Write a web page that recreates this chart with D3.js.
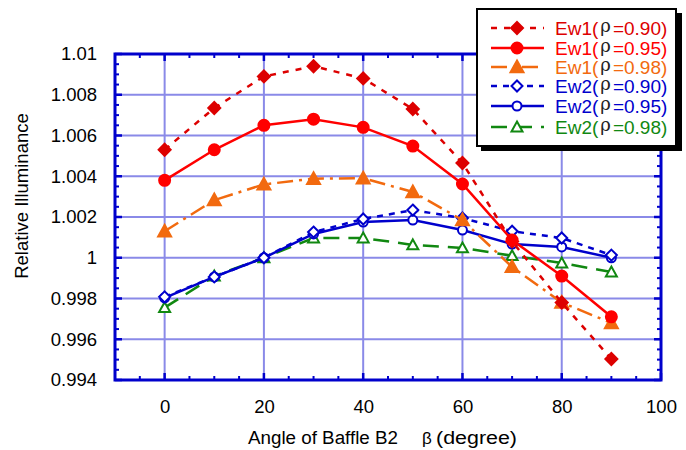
<!DOCTYPE html>
<html><head><meta charset="utf-8">
<script src="https://cdn.jsdelivr.net/npm/d3@7"></script>
<style>body{margin:0;background:#fff}svg{display:block}text{font-family:Arial,"Liberation Sans",sans-serif}</style>
</head><body><svg id="c" width="686" height="450"></svg>
<script>
const angles = [0,10,20,30,40,50,60,70,80,90];
const ew1_090 = [1.0053,1.00735,1.0089,1.0094,1.0088,1.0073,1.00465,1.0008,0.9978,0.99503];
const ew1_095 = [1.0038,1.0053,1.0065,1.0068,1.0064,1.00548,1.00362,1.00087,0.9991,0.9971];
const ew1_098 = [1.0013,1.00283,1.0036,1.00388,1.0039,1.00323,1.00185,0.99955,0.9978,0.9968];
const ew2_090 = [0.99808,0.99906,1.0,1.00126,1.0019,1.00234,1.00195,1.0013,1.00097,1.00013];
const ew2_095 = [0.99803,0.99906,1.0,1.00117,1.00175,1.00185,1.00136,1.00067,1.00053,1.0];
const ew2_098 = [0.99755,0.9991,1.0,1.00097,1.00097,1.00063,1.00048,1.0001,0.99974,0.9993];
const xTicks = [0,20,40,60,80,100];
const yTicks = [0.994,0.996,0.998,1.0,1.002,1.004,1.006,1.008,1.01];
const yTickLabels = ["0.994","0.996","0.998","1","1.002","1.004","1.006","1.008","1.01"];

const series = [
  {name:"Ew1", rho:"0.90", vals:ew1_090, color:"#dd0000", dash:"6,7", marker:"diamond", fill:true},
  {name:"Ew1", rho:"0.95", vals:ew1_095, color:"#ff0000", dash:null, marker:"circle", fill:true},
  {name:"Ew1", rho:"0.98", vals:ew1_098, color:"#f26a0f", dash:"16,6,3,6", marker:"triangle", fill:true},
  {name:"Ew2", rho:"0.90", vals:ew2_090, color:"#0000cc", dash:"6,6", marker:"diamond", fill:false},
  {name:"Ew2", rho:"0.95", vals:ew2_095, color:"#0000cc", dash:null, marker:"circle", fill:false},
  {name:"Ew2", rho:"0.98", vals:ew2_098, color:"#118811", dash:"16,9", marker:"triangle", fill:false}
];

const svg = d3.select("#c");
const L=115, R=661, T=54, B=380;
const x = d3.scaleLinear().domain([-10,100]).range([L,R]);
const y = d3.scaleLinear().domain([0.994,1.01]).range([B,T]);
const axisCol = "#0000cc", gridCol = "#8a8ae8";
const FS = 18.5;

// grid
const g = svg.append("g");
g.selectAll(".vg").data(xTicks.filter(d=>d<100)).enter().append("line")
  .attr("x1",d=>x(d)).attr("x2",d=>x(d)).attr("y1",T).attr("y2",B)
  .attr("stroke",gridCol).attr("stroke-width",2);
g.selectAll(".hg").data(yTicks.filter(d=>d>0.994 && d<1.01)).enter().append("line")
  .attr("y1",d=>y(d)).attr("y2",d=>y(d)).attr("x1",L).attr("x2",R)
  .attr("stroke",gridCol).attr("stroke-width",2);

// axes (all four sides, inward ticks)
const xMinor = d3.range(-5,100,5).filter(v=>!xTicks.includes(v));
const yMinor = d3.range(0,33).map(i=>0.994+i*0.0005).filter(v=>Math.abs(((v-0.994)/0.002)-Math.round((v-0.994)/0.002))>0.01);
function xAxis(pos, dir){
  svg.append("g").selectAll("line").data(xTicks).enter().append("line")
    .attr("x1",d=>x(d)).attr("x2",d=>x(d)).attr("y1",pos).attr("y2",pos+dir*7)
    .attr("stroke",axisCol).attr("stroke-width",2.5);
  svg.append("g").selectAll("line").data(xMinor).enter().append("line")
    .attr("x1",d=>x(d)).attr("x2",d=>x(d)).attr("y1",pos).attr("y2",pos+dir*4)
    .attr("stroke",axisCol).attr("stroke-width",2);
}
function yAxis(pos, dir){
  svg.append("g").selectAll("line").data(yTicks).enter().append("line")
    .attr("y1",d=>y(d)).attr("y2",d=>y(d)).attr("x1",pos).attr("x2",pos+dir*7)
    .attr("stroke",axisCol).attr("stroke-width",2.5);
  svg.append("g").selectAll("line").data(yMinor).enter().append("line")
    .attr("y1",d=>y(d)).attr("y2",d=>y(d)).attr("x1",pos).attr("x2",pos+dir*4)
    .attr("stroke",axisCol).attr("stroke-width",2);
}
xAxis(B,-1); xAxis(T,1); yAxis(L,1); yAxis(R,-1);
svg.append("rect").attr("x",L).attr("y",T).attr("width",R-L).attr("height",B-T)
  .attr("fill","none").attr("stroke",axisCol).attr("stroke-width",3);

// tick labels via axis generators
const xa = d3.axisBottom(x).tickValues(xTicks).tickSize(0).tickPadding(20).tickFormat(d3.format("d"));
svg.append("g").attr("transform",`translate(0,${B})`).call(xa)
  .call(s=>{s.select(".domain").remove(); s.selectAll("text").attr("font-size",FS).attr("fill","#000").attr("font-family","Arial,'Liberation Sans',sans-serif");});
const ya = d3.axisLeft(y).tickValues(yTicks).tickSize(0).tickPadding(18).tickFormat((d,i)=>yTickLabels[i]);
svg.append("g").attr("transform",`translate(${L},0)`).call(ya)
  .call(s=>{s.select(".domain").remove(); s.selectAll("text").attr("font-size",FS).attr("fill","#000").attr("font-family","Arial,'Liberation Sans',sans-serif");});

// axis titles
svg.append("text").attr("x",248).attr("y",444).attr("font-size",18).attr("fill","#000")
  .attr("textLength",150).attr("lengthAdjust","spacingAndGlyphs").text("Angle of Baffle B2");
svg.append("text").attr("x",422).attr("y",444).attr("font-size",17).attr("fill","#000")
  .attr("font-family","'DejaVu Serif','Liberation Serif',serif").text("β");
svg.append("text").attr("x",436).attr("y",444).attr("font-size",18).attr("fill","#000")
  .attr("textLength",81).attr("lengthAdjust","spacingAndGlyphs").text("(degree)");
svg.append("text").attr("transform","translate(28,196) rotate(-90)").attr("text-anchor","middle")
  .attr("font-size",18.5).attr("fill","#000").text("Relative Illuminance");

// markers
function drawMarker(sel, s, cx, cy){
  const sw = 2;
  const fill = s.fill ? s.color : "#fff";
  if(s.marker==="circle"){
    sel.append("circle").attr("cx",cx).attr("cy",cy).attr("r", s.fill?5.5:4.5)
      .attr("fill",fill).attr("stroke",s.color).attr("stroke-width",sw);
  } else if(s.marker==="diamond"){
    const r = s.fill?6:5.5;
    sel.append("path").attr("d",`M${cx},${cy-r}L${cx+r},${cy}L${cx},${cy+r}L${cx-r},${cy}Z`)
      .attr("fill",fill).attr("stroke",s.color).attr("stroke-width",sw);
  } else {
    const r = s.fill?6.5:5.5;
    sel.append("path").attr("d",`M${cx},${cy-r}L${cx+r},${cy+r*0.8}L${cx-r},${cy+r*0.8}Z`)
      .attr("fill",fill).attr("stroke",s.color).attr("stroke-width",sw).attr("stroke-linejoin","miter");
  }
}

const line = d3.line().x((d,i)=>x(angles[i])).y(d=>y(d));
const order = [5,4,3,2,0,1];
order.forEach(k=>{
  const s = series[k];
  const gg = svg.append("g");
  gg.append("path").attr("d",line(s.vals)).attr("fill","none").attr("stroke",s.color)
    .attr("stroke-width",2.5).attr("stroke-dasharray",s.dash);
  s.vals.forEach((v,i)=>drawMarker(gg,s,x(angles[i]),y(v)));
});

// legend
const lg = svg.append("g");
lg.append("rect").attr("x",481).attr("y",13).attr("width",201).attr("height",138).attr("fill","#000");
lg.append("rect").attr("x",477).attr("y",9).attr("width",199).attr("height",137).attr("fill","#fff").attr("stroke","#000").attr("stroke-width",2);
const rowY = [28,48,67,86,106,127];
series.forEach((s,i)=>{
  const yy = rowY[i];
  lg.append("line").attr("x1",491).attr("x2",544).attr("y1",yy).attr("y2",yy)
    .attr("stroke",s.color).attr("stroke-width",2.5).attr("stroke-dasharray",s.dash);
  drawMarker(lg,s,517,yy);
  const t = lg.append("text").attr("x",555).attr("y",yy+7).attr("font-size",19).attr("fill",s.color);
  t.append("tspan").text(s.name+"(");
  t.append("tspan").attr("font-family","'DejaVu Serif','Liberation Serif',serif").attr("font-size",18)
    .attr("fill","#222").attr("dx",2).attr("dy",-3).text("ρ");
  t.append("tspan").attr("dy",3).attr("dx",2).text("=" + s.rho + ")");
});
</script></body></html>
